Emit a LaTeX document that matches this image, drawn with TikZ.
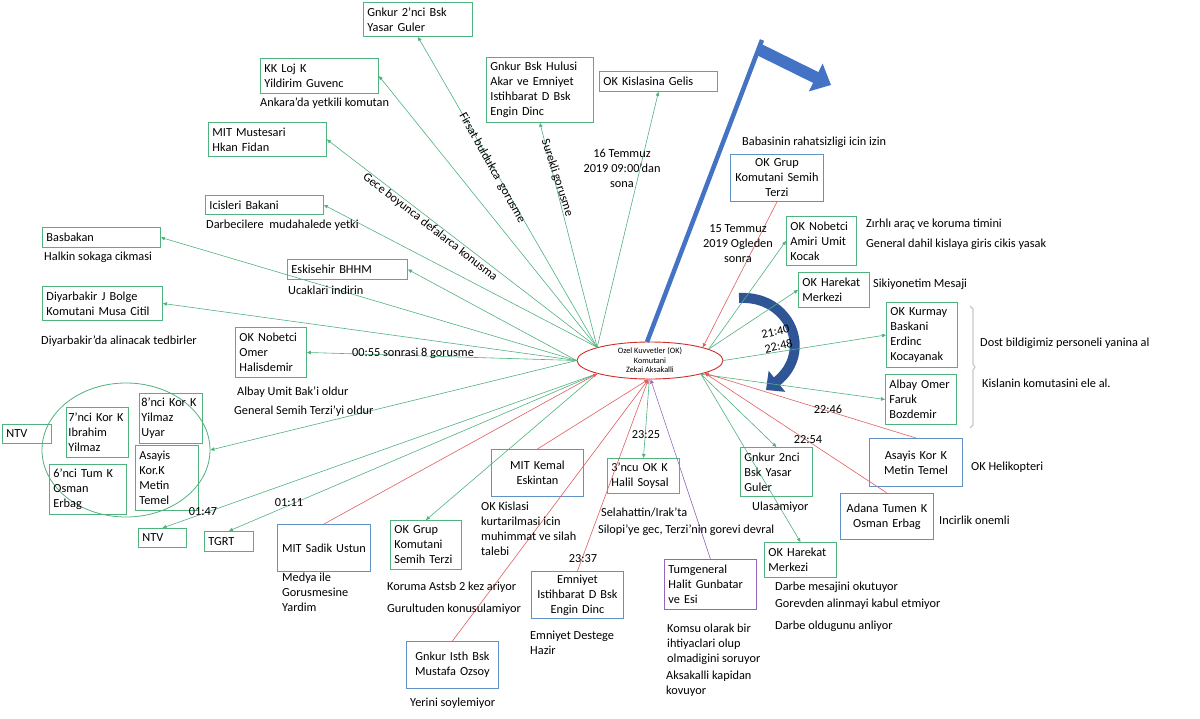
\documentclass[tikz,border=0pt]{standalone}
\usepackage{fontspec}
\setmainfont{Carlito}
\usetikzlibrary{arrows.meta, shapes.geometric}
\definecolor{boxgreen}{RGB}{80, 178, 125}
\definecolor{boxblue}{RGB}{96, 146, 200}
\definecolor{boxpurple}{RGB}{150, 100, 185}
\definecolor{linered}{RGB}{225, 95, 95}
\definecolor{ovalred}{RGB}{210, 45, 45}
\definecolor{flagblue}{RGB}{68, 114, 196}
\definecolor{turnblue}{RGB}{47, 85, 151}
\definecolor{bracegray}{RGB}{200, 200, 200}
\newcommand{\txtfont}{\fontsize{12.3}{15}\selectfont}
\newcommand{\ovalfont}{\fontsize{8.2}{9.5}\selectfont}

\begin{document}
\begin{tikzpicture}[
    x=1pt, y=-1pt,
    lbl/.style={font=\txtfont, inner sep=0pt, anchor=west},
    gbox/.style={draw=boxgreen, line width=0.9pt, anchor=north west,
                 inner xsep=4pt, inner ysep=0pt, align=left, font=\txtfont},
    bbox/.style={gbox, draw=boxblue, align=center},
    gline/.style={draw=boxgreen, line width=0.6pt,
                  -{Triangle[length=4pt, width=3.5pt]}},
    rline/.style={gline, draw=linered},
    pline/.style={gline, draw=boxpurple},
]
\fill[white] (0,0) rectangle (1200,718);
\useasboundingbox (0,0) rectangle (1200,718);

% -- Commander --
\node[ellipse, draw=ovalred, line width=0.9pt, minimum width=146pt,
      minimum height=37pt, inner sep=0pt,
      label={[font=\ovalfont, align=center]center:Ozel Kuvvetler (OK)\\Komutani\\Zekai Aksakalli}]
      (oz) at (650,360.5) {};

% -- Flag arrow and turn arrow --
\coordinate (flagfoot) at (647,342);
\coordinate (flagtop) at (762,40);
\draw[line width=4.5pt, flagblue] (flagfoot) -- (flagtop);
\draw[line width=12pt, flagblue, -{Triangle[length=17pt, width=30pt]}]
    (760,50) -- (831,85);
\draw[line width=10pt, turnblue, -{Triangle[length=14pt, width=26pt]}]
    (739,298) .. controls (790,295) and (814,352) .. (766,390);

% -- Upper left contacts --
\node[gbox, text width=101pt, minimum height=34pt] (g2) at (363,2)
    {Gnkur 2’nci Bsk\\Yasar Guler};
\node[gbox, text width=110pt, minimum height=35pt] (kkloj) at (260,58)
    {KK Loj K\\Yildirim Guvenc};
\node[gbox, text width=110pt, minimum height=34pt] (mitm) at (208,122)
    {MIT Mustesari\\Hkan Fidan};
\node[gbox, text width=110pt, minimum height=19pt] (icis) at (205,195)
    {Icisleri Bakani};
\node[gbox, text width=110pt, minimum height=20pt] (basb) at (42,227)
    {Basbakan};
\node[gbox, text width=112pt, minimum height=20pt] (eski) at (287,259)
    {Eskisehir BHHM};
\node[gbox, text width=112pt, minimum height=34pt] (diyar) at (42,286)
    {Diyarbakir J Bolge\\Komutani Musa Citil};
\node[gbox, text width=63pt, minimum height=50pt] (omer) at (235,327)
    {OK Nobetci\\Omer\\Halisdemir};
\node[gbox, text width=99pt, minimum height=65pt] (hulusi) at (486,57)
    {Gnkur Bsk Hulusi\\Akar ve Emniyet\\Istihbarat D Bsk\\Engin Dinc};
\node[gbox, text width=110pt, minimum height=20pt] (kisla) at (599,71)
    {OK Kislasina Gelis};

% -- Corps group --
\node[ellipse, draw=boxgreen, line width=0.8pt, minimum width=168pt,
      minimum height=134pt] (korgrp) at (126,450) {};
\node[gbox, inner xsep=2pt, text width=58pt, minimum height=50pt] (kor7)
    at (66,407) {7’nci Kor K\\Ibrahim\\Yilmaz};
\node[gbox, inner xsep=2pt, text width=59pt, minimum height=50pt] (kor8)
    at (139,393) {8’nci Kor K\\Yilmaz\\Uyar};
\node[gbox, text width=55pt, minimum height=65pt] (asay) at (135,445)
    {Asayis\\Kor.K\\Metin\\Temel};
\node[gbox, text width=69pt, minimum height=50pt] (tum6) at (49,464)
    {6’nci Tum K\\Osman\\Erbag};
\node[gbox, text width=41pt, minimum height=19pt] (ntva) at (2,424) {NTV};

% -- Lower contacts --
\node[gbox, text width=40pt, minimum height=19pt] (ntvb) at (138,528) {NTV};
\node[gbox, text width=41pt, minimum height=20pt] (tgrt) at (204,531) {TGRT};
\node[bbox, text width=85pt, minimum height=47pt] (sadik) at (277,524)
    {MIT Sadik Ustun};
\node[gbox, text width=63pt, minimum height=49pt] (grupb) at (390,520)
    {OK Grup\\Komutani\\Semih Terzi};
\node[bbox, text width=84pt, minimum height=47pt] (kemal) at (491,449)
    {MIT Kemal\\Eskintan};
\node[gbox, text width=64pt, minimum height=35pt] (ncu3) at (607,458)
    {3’ncu OK K\\Halil Soysal};
\node[bbox, text width=84pt, minimum height=47pt] (emn) at (531,571)
    {Emniyet\\Istihbarat D Bsk\\Engin Dinc};
\node[bbox, text width=84pt, minimum height=47pt] (isth) at (406,641)
    {Gnkur Isth Bsk\\Mustafa Ozsoy};
\node[gbox, draw=boxpurple, text width=84pt, minimum height=50pt] (halit)
    at (664,559) {Tumgeneral\\Halit Gunbatar\\ve Esi};
\node[gbox, text width=64pt, minimum height=49pt] (gnk2n) at (740,447)
    {Gnkur 2nci\\Bsk Yasar\\Guler};
\node[gbox, text width=64pt, minimum height=35pt] (harb) at (764,542)
    {OK Harekat\\Merkezi};

% -- Right contacts --
\node[bbox, text width=85pt, minimum height=46pt] (adana) at (840,493)
    {Adana Tumen K\\Osman Erbag};
\node[bbox, text width=85pt, minimum height=48pt] (asayk) at (869,438)
    {Asayis Kor K\\Metin Temel};
\node[gbox, text width=63pt, minimum height=50pt] (omerf) at (885,374)
    {Albay Omer\\Faruk\\Bozdemir};
\node[gbox, text width=63pt, minimum height=65pt] (kurm) at (886,302)
    {OK Kurmay\\Baskani\\Erdinc\\Kocayanak};
\node[gbox, text width=63pt, minimum height=35pt] (hara) at (798,272)
    {OK Harekat\\Merkezi};
\node[gbox, text width=62pt, minimum height=49pt] (umit) at (786,216)
    {OK Nobetci\\Amiri Umit\\Kocak};
\node[bbox, text width=85pt, minimum height=47pt] (grupa) at (730,154)
    {OK Grup\\Komutani Semih\\Terzi};

% -- Bracket --
\draw[bracegray, line width=1.2pt] (970,306) -- (973,309) -- (973,364)
    -- (975,367) -- (973,370) -- (973,425) -- (970,428);

% -- Green lines (from the commander) --
\draw[gline] (oz.166) -- (g2.south);
\draw[gline] (oz.166) -- (kkloj.east);
\draw[gline] (oz.166) -- (mitm.east);
\draw[gline] (oz.166) -- (icis.east);
\draw[gline] (oz.166) -- (hulusi.south);
\draw[gline] (oz.166) -- (kisla.south);
\draw[gline] (oz.west) -- (basb.east);
\draw[gline] (oz.west) -- (eski.east);
\draw[gline] (oz.west) -- (diyar.east);
\draw[gline] (oz.west) -- (omer.east);
\draw[gline] (oz.west) -- (korgrp.east);
\draw[gline] (oz.194) -- (ntvb.north);
\draw[gline] (oz.194) -- (tgrt.north);
\draw[gline] (oz.194) -- (grupb.north);
\draw[gline] (oz.268) -- (ncu3.north);
\draw[gline] (oz.11) -- (umit.west);
\draw[gline] (oz.11) -- (hara.west);
\draw[gline] (oz.east) -- (kurm.west);
\draw[gline] (oz.345) -- (omerf.west);
\draw[gline] (oz.345) -- (gnk2n.north);
\draw[gline] (oz.345) -- (harb.north);

% -- Red and purple lines (towards the commander) --
\draw[rline] (grupa.south) -- (oz.14);
\draw[rline] (asayk.north) -- (oz.347);
\draw[rline] (adana.north) -- (oz.347);
\draw[rline] (sadik.north) -- (oz.194);
\draw[rline] (kemal.north) -- (oz.265);
\draw[rline] (isth.north) -- (oz.265);
\draw[rline] (emn.north) -- (oz.265);
\draw[pline] (halit.north) -- (oz.272);

% -- Line texts --
\node[lbl, rotate=-61, anchor=center] (firsat) at (492,168)
    {Firsat buldukca\ \ gorusme};
\node[lbl, rotate=-72, anchor=center] (surekli) at (557,178)
    {Surekli gorusme};
\node[lbl, rotate=-38, anchor=center] (gece) at (430,227)
    {Gece boyunca defalarca konusma};
\node[lbl, anchor=center, align=center] (t16) at (622,168)
    {16 Temmuz\\2019 09:00’dan\\sona};
\node[lbl, anchor=center, align=center] (t15) at (738,244)
    {15 Temmuz\\2019 Ogleden\\sonra};
\node[lbl, anchor=center] (t0055) at (413,353) {00:55 sonrasi 8 gorusme};
\node[lbl, anchor=center] (t0147) at (203,512) {01:47};
\node[lbl, anchor=center] (t0111) at (289,503) {01:11};
\node[lbl, anchor=center] (t2325) at (646,435) {23:25};
\node[lbl, anchor=center] (t2337) at (583,559) {23:37};
\node[lbl, anchor=center] (t2254) at (808,440) {22:54};
\node[lbl, anchor=center] (t2246) at (828,409) {22:46};
\node[lbl, anchor=center, align=center, rotate=12] (t2140) at (777,339)
    {21:40\\22:48};

% -- Notes --
\node[lbl] (n1) at (260,103) {Ankara’da yetkili komutan};
\node[lbl] (n2) at (206,225) {Darbecilere\ \ mudahalede yetki};
\node[lbl] (n3) at (44,257) {Halkin sokaga cikmasi};
\node[lbl] (n4) at (288,290) {Ucaklari indirin};
\node[lbl] (n5) at (41,341) {Diyarbakir’da alinacak tedbirler};
\node[lbl] (n6) at (237,392) {Albay Umit Bak’i oldur};
\node[lbl] (n7) at (234,411) {General Semih Terzi’yi oldur};
\node[lbl, anchor=north west, align=left] (n8) at (282,573)
    {Medya ile\\Gorusmesine\\Yardim};
\node[lbl] (n9) at (387,587) {Koruma Astsb 2 kez ariyor};
\node[lbl] (n10) at (387,609) {Gurultuden konusulamiyor};
\node[lbl, anchor=north west, align=left] (n11) at (481,502)
    {OK Kislasi\\kurtarilmasi icin\\muhimmat ve silah\\talebi};
\node[lbl] (n12) at (601,512) {Selahattin/Irak’ta};
\node[lbl] (n13) at (598,530) {Silopi’ye gec, Terzi’nin gorevi devral};
\node[lbl, anchor=north west, align=left] (n14) at (530,631)
    {Emniyet Destege\\Hazir};
\node[lbl] (n15) at (410,703) {Yerini soylemiyor};
\node[lbl, anchor=north west, align=left] (n16) at (667,624)
    {Komsu olarak bir\\ihtiyaclari olup\\olmadigini soruyor};
\node[lbl, anchor=north west, align=left] (n17) at (666,671)
    {Aksakalli kapidan\\kovuyor};
\node[lbl] (n18) at (752,507) {Ulasamiyor};
\node[lbl] (n19) at (775,587) {Darbe mesajini okutuyor};
\node[lbl] (n20) at (775,604) {Gorevden alinmayi kabul etmiyor};
\node[lbl] (n21) at (775,626) {Darbe oldugunu anliyor};
\node[lbl] (n22) at (939,520) {Incirlik onemli};
\node[lbl] (n23) at (971,467) {OK Helikopteri};
\node[lbl] (n24) at (980,343) {Dost bildigimiz personeli yanina al};
\node[lbl] (n25) at (982,383) {Kislanin komutasini ele al.};
\node[lbl] (n26) at (873,284) {Sikiyonetim Mesaji};
\node[lbl] (n27) at (866,224) {Zırhlı araç ve koruma timini};
\node[lbl] (n28) at (866,244) {General dahil kislaya giris cikis yasak};
\node[lbl] (n29) at (742,142) {Babasinin rahatsizligi icin izin};

\end{tikzpicture}
\end{document}
